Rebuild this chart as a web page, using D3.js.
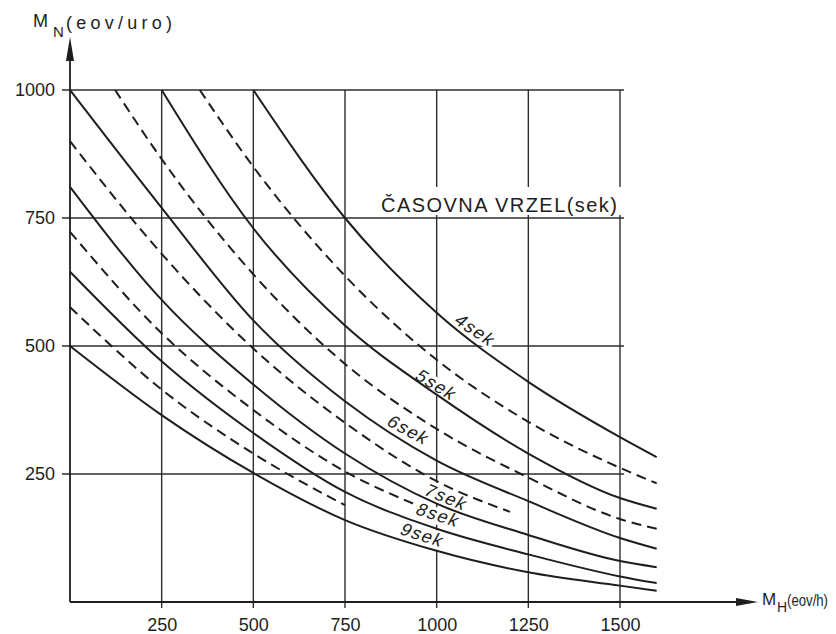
<!DOCTYPE html>
<html><head><meta charset="utf-8">
<script src="https://cdn.jsdelivr.net/npm/d3@7"></script>
<style>
body{margin:0;background:#fff}
svg{display:block;font-family:"Liberation Sans","DejaVu Sans",Arial,sans-serif}
</style>
</head><body>
<svg id="chart" width="836" height="634"></svg>
<script>
// ---------------- data ----------------
const xTickValues = [250, 500, 750, 1000, 1250, 1500];
const yTickValues = [250, 500, 750, 1000];
const gapSeconds  = [4, 4.5, 5, 5.5, 6, 6.5, 7, 7.5, 8, 8.5, 9];
const gapDashed   = [false, true, false, true, false, true, false, true, false, true, false];
// points: [M_H (eov/h), M_N (eov/uro)]
const gap4   = [[500,1000],[750,750],[1000,565],[1250,430],[1500,322],[1600,283]];
const gap4_5 = [[354,1000],[500,850],[750,637],[1000,473],[1250,352],[1500,262],[1600,232]];
const gap5   = [[250,1000],[500,730],[750,540],[1000,405],[1250,290],[1500,203],[1600,182]];
const gap5_5 = [[123,1000],[250,865],[500,640],[750,465],[1000,338],[1250,243],[1500,162],[1600,143]];
const gap6   = [[0,1000],[250,770],[500,550],[750,392],[1000,276],[1250,197],[1500,125],[1600,104]];
const gap6_5 = [[0,900],[250,680],[500,495],[750,350],[1000,236],[1200,176]];
const gap7   = [[0,811],[250,590],[500,425],[750,290],[1000,192],[1250,131],[1500,80],[1600,68]];
const gap7_5 = [[0,723],[250,525],[500,375],[750,255],[950,188]];
const gap8   = [[0,645],[250,470],[500,330],[750,215],[1000,143],[1250,93],[1500,50],[1600,37]];
const gap8_5 = [[0,576],[250,415],[500,290],[750,189]];
const gap9   = [[0,500],[250,365],[500,252],[750,160],[1000,100],[1250,58],[1500,32],[1600,22]];
const gapSeries = [gap4, gap4_5, gap5, gap5_5, gap6, gap6_5, gap7, gap7_5, gap8, gap8_5, gap9];
const curveLabels = ["4sek","5sek","6sek","7sek","8sek","9sek"];
const labelAnchors = [[1106,531],[1000,424],[924,336],[1027,205],[1005,170],[962,131]];
const labelAngles  = [34, 31, 28, 22, 18, 18];
const legendTitle = "ČASOVNA VRZEL(sek)";

// ---------------- layout ----------------
const svg = d3.select("#chart");
const x = d3.scaleLinear().domain([0, 1500]).range([70, 620]);
const y = d3.scaleLinear().domain([0, 1000]).range([602, 90]);
const ink = "#1e1e1e";
const gridInk = "#2e2e2e";

// grid
const grid = svg.append("g").attr("stroke", gridInk).attr("stroke-width", 1.4).attr("fill","none");
grid.selectAll("line.v").data(xTickValues).join("line")
  .attr("x1", d => x(d)).attr("x2", d => x(d))
  .attr("y1", y(1000)).attr("y2", y(0) + 6);
grid.selectAll("line.h").data(yTickValues).join("line")
  .attr("x1", x(0) - 8).attr("x2", x(1500) + 4)
  .attr("y1", d => y(d)).attr("y2", d => y(d));

// axes (tick labels)
const fs = 18;
const gx = svg.append("g").attr("transform", `translate(0,${y(0)})`)
  .call(d3.axisBottom(x).tickValues(xTickValues).tickSize(0).tickPadding(13).tickFormat(d3.format("d")));
const gy = svg.append("g").attr("transform", `translate(${x(0)},0)`)
  .call(d3.axisLeft(y).tickValues(yTickValues).tickSize(0).tickPadding(15).tickFormat(d3.format("d")));
[gx, gy].forEach(g => {
  g.select(".domain").remove();
  g.selectAll("text").attr("font-size", fs).attr("fill", ink).attr("font-family", "Liberation Sans, Arial, sans-serif");
});
gx.selectAll("text").attr("dy", "0.9em");

// axis lines with arrows
svg.append("line").attr("x1", x(0)).attr("x2", x(0)).attr("y1", y(0)).attr("y2", 50)
  .attr("stroke", ink).attr("stroke-width", 1.8);
svg.append("path").attr("d", `M${x(0)},37 L${x(0)-4},61 L${x(0)+4},61 Z`).attr("fill", ink);
svg.append("line").attr("x1", x(0)).attr("x2", 744).attr("y1", y(0)).attr("y2", y(0))
  .attr("stroke", ink).attr("stroke-width", 1.8);
svg.append("path").attr("d", `M758,${y(0)} L736,${y(0)-4} L736,${y(0)+4} Z`).attr("fill", ink);

// axis titles
const yt = svg.append("g").attr("fill", ink).attr("font-size", 18);
yt.append("text").attr("x", 33).attr("y", 27).text("M");
yt.append("text").attr("x", 53).attr("y", 37).attr("font-size", 15).text("N");
yt.append("text").attr("x", 66).attr("y", 29).attr("textLength", 106).attr("lengthAdjust","spacing").text("(eov/uro)");
const xt = svg.append("g").attr("fill", ink).attr("font-size", 17);
xt.append("text").attr("x", 762).attr("y", 605).text("M");
xt.append("text").attr("x", 777).attr("y", 612).attr("font-size", 14).text("H");
xt.append("text").attr("x", 787).attr("y", 606).attr("font-size", 16).attr("textLength", 41).attr("lengthAdjust","spacingAndGlyphs").text("(eov/h)");

// legend title with white background cutting the grid
svg.append("rect").attr("x", 376).attr("y", 187).attr("width", 248).attr("height", 28).attr("fill", "#fff");
svg.append("text").attr("x", 381).attr("y", 212).attr("font-size", 20).attr("fill", ink)
  .attr("textLength", 236).attr("lengthAdjust", "spacing").text(legendTitle);

// label halos (cut only gridlines)
const labelG = () => svg.append("g").selectAll("text").data(curveLabels).join("text")
  .attr("transform", (d, i) => `translate(${x(labelAnchors[i][0])},${y(labelAnchors[i][1])}) rotate(${labelAngles[i]}) skewX(-12)`)
  .attr("text-anchor", "middle").attr("dy", "0.35em")
  .attr("font-size", 18).attr("letter-spacing", 1.5).text(d => d);
labelG().attr("fill", "#fff").attr("stroke", "#fff").attr("stroke-width", 7).attr("stroke-linejoin","round");

// curves
const line = d3.line().x(d => x(d[0])).y(d => y(d[1])).curve(d3.curveMonotoneX);
svg.append("g").attr("fill", "none").attr("stroke", ink).attr("stroke-width", 2)
  .selectAll("path").data(gapSeries).join("path")
  .attr("d", line)
  .attr("stroke-dasharray", (d, i) => gapDashed[i] ? "10,6" : null);

// label text
labelG().attr("fill", ink);
</script>
</body></html>
